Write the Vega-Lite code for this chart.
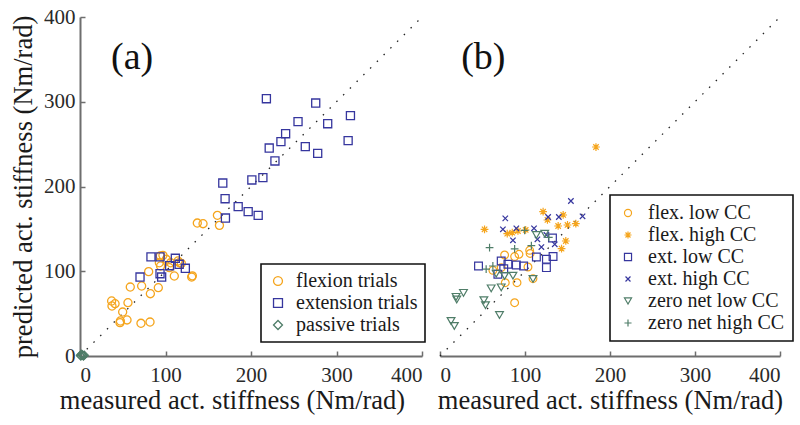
{
  "$schema": "https://vega.github.io/schema/vega-lite/v6.json",
  "background": "white",
  "padding": {"left": 10, "top": 6, "right": 2, "bottom": 4},
  "config": {
    "font": "Liberation Serif, serif",
    "view": {"stroke": null},
    "text": {"font": "Liberation Serif, serif"},
    "axis": {
      "labelFont": "Liberation Serif, serif",
      "titleFont": "Liberation Serif, serif",
      "labelFontSize": 21,
      "titleFontSize": 26.5,
      "titleFontWeight": "normal",
      "labelColor": "#2a2a2a",
      "titleColor": "#1a1a1a",
      "domainColor": "#6e6e6e",
      "domainWidth": 2,
      "tickColor": "#6e6e6e",
      "tickWidth": 1.5,
      "tickSize": -5,
      "grid": false
    },
    "legend": {
      "labelFont": "Liberation Serif, serif",
      "labelFontSize": 20,
      "labelColor": "#1a1a1a",
      "strokeColor": "#111111",
      "strokeWidth": 1.6,
      "fillColor": "white",
      "title": null
    }
  },
  "datasets": {
    "diag": [{"x": 0, "y": 0, "x2": 400, "y2": 400}],
    "labA": [{"x": 61, "y": 352, "label": "(a)"}],
    "labB": [{"x": 51, "y": 352, "label": "(b)"}],
    "a": [
      {"x": 160.7, "y": 166, "s": "flexion trials"},
      {"x": 163.1, "y": 154.2, "s": "flexion trials"},
      {"x": 137.2, "y": 156.9, "s": "flexion trials"},
      {"x": 143.9, "y": 156.1, "s": "flexion trials"},
      {"x": 94, "y": 118, "s": "flexion trials"},
      {"x": 97, "y": 118.8, "s": "flexion trials"},
      {"x": 92.8, "y": 110, "s": "flexion trials"},
      {"x": 100.9, "y": 114.1, "s": "flexion trials"},
      {"x": 114.6, "y": 112.1, "s": "flexion trials"},
      {"x": 118.5, "y": 109.3, "s": "flexion trials"},
      {"x": 104.5, "y": 104.2, "s": "flexion trials"},
      {"x": 116.2, "y": 110.1, "s": "flexion trials"},
      {"x": 80.3, "y": 99.5, "s": "flexion trials"},
      {"x": 110.3, "y": 94.4, "s": "flexion trials"},
      {"x": 130.6, "y": 93.2, "s": "flexion trials"},
      {"x": 131.4, "y": 94.6, "s": "flexion trials"},
      {"x": 58.8, "y": 81.4, "s": "flexion trials"},
      {"x": 72.1, "y": 82.6, "s": "flexion trials"},
      {"x": 91.6, "y": 80.6, "s": "flexion trials"},
      {"x": 82.3, "y": 73.5, "s": "flexion trials"},
      {"x": 37, "y": 64.9, "s": "flexion trials"},
      {"x": 37.4, "y": 59, "s": "flexion trials"},
      {"x": 41, "y": 61.7, "s": "flexion trials"},
      {"x": 56.1, "y": 62.9, "s": "flexion trials"},
      {"x": 49.9, "y": 51.9, "s": "flexion trials"},
      {"x": 47.2, "y": 41.3, "s": "flexion trials"},
      {"x": 46.8, "y": 39.3, "s": "flexion trials"},
      {"x": 55, "y": 42.5, "s": "flexion trials"},
      {"x": 71.3, "y": 38.6, "s": "flexion trials"},
      {"x": 81.9, "y": 40.1, "s": "flexion trials"},
      {"x": 94.2, "y": 106.2, "s": "flexion trials"},
      {"x": 106, "y": 110, "s": "flexion trials"},
      {"x": 218, "y": 303.6, "s": "extension trials"},
      {"x": 275.7, "y": 298.5, "s": "extension trials"},
      {"x": 316.3, "y": 283.6, "s": "extension trials"},
      {"x": 255, "y": 276.5, "s": "extension trials"},
      {"x": 289.7, "y": 274.1, "s": "extension trials"},
      {"x": 240.5, "y": 262.3, "s": "extension trials"},
      {"x": 235, "y": 252.9, "s": "extension trials"},
      {"x": 221.3, "y": 245.4, "s": "extension trials"},
      {"x": 263.5, "y": 247, "s": "extension trials"},
      {"x": 278, "y": 239.1, "s": "extension trials"},
      {"x": 313.6, "y": 254.1, "s": "extension trials"},
      {"x": 228, "y": 230.1, "s": "extension trials"},
      {"x": 167, "y": 204.1, "s": "extension trials"},
      {"x": 201, "y": 207.7, "s": "extension trials"},
      {"x": 213.9, "y": 210.4, "s": "extension trials"},
      {"x": 169.7, "y": 185.6, "s": "extension trials"},
      {"x": 185, "y": 176.2, "s": "extension trials"},
      {"x": 196.7, "y": 170.3, "s": "extension trials"},
      {"x": 208.4, "y": 166, "s": "extension trials"},
      {"x": 170.1, "y": 162.8, "s": "extension trials"},
      {"x": 83, "y": 117, "s": "extension trials"},
      {"x": 93.6, "y": 117, "s": "extension trials"},
      {"x": 111.5, "y": 115.3, "s": "extension trials"},
      {"x": 116, "y": 108.2, "s": "extension trials"},
      {"x": 123.2, "y": 103.5, "s": "extension trials"},
      {"x": 70.2, "y": 93.2, "s": "extension trials"},
      {"x": 93.6, "y": 97.1, "s": "extension trials"},
      {"x": 95.5, "y": 93.2, "s": "extension trials"},
      {"x": 104.8, "y": 106.5, "s": "extension trials"},
      {"x": 1, "y": 0, "s": "passive trials"},
      {"x": 3, "y": 1, "s": "passive trials"},
      {"x": 4, "y": 0, "s": "passive trials"},
      {"x": 2, "y": 2, "s": "passive trials"},
      {"x": 5, "y": 1, "s": "passive trials"},
      {"x": 0.5, "y": 1, "s": "passive trials"}
    ],
    "b": [
      {"x": 76, "y": 119.2, "s": "flex. low CC"},
      {"x": 87.8, "y": 117.3, "s": "flex. low CC"},
      {"x": 92.9, "y": 120, "s": "flex. low CC"},
      {"x": 105.5, "y": 124.7, "s": "flex. low CC"},
      {"x": 62.2, "y": 101.1, "s": "flex. low CC"},
      {"x": 72, "y": 104.3, "s": "flex. low CC"},
      {"x": 103.5, "y": 105, "s": "flex. low CC"},
      {"x": 76.8, "y": 86.5, "s": "flex. low CC"},
      {"x": 90.6, "y": 86.5, "s": "flex. low CC"},
      {"x": 109.4, "y": 91.3, "s": "flex. low CC"},
      {"x": 87.8, "y": 62.9, "s": "flex. low CC"},
      {"x": 106, "y": 121, "s": "flex. low CC"},
      {"x": 183.5, "y": 246.6, "s": "flex. high CC"},
      {"x": 52.4, "y": 149.5, "s": "flex. high CC"},
      {"x": 121.3, "y": 170.3, "s": "flex. high CC"},
      {"x": 144.9, "y": 166.4, "s": "flex. high CC"},
      {"x": 126.4, "y": 160.5, "s": "flex. high CC"},
      {"x": 139, "y": 153.4, "s": "flex. high CC"},
      {"x": 150, "y": 154.6, "s": "flex. high CC"},
      {"x": 159.8, "y": 156.2, "s": "flex. high CC"},
      {"x": 79.1, "y": 144.3, "s": "flex. high CC"},
      {"x": 91.7, "y": 147.5, "s": "flex. high CC"},
      {"x": 100.8, "y": 148.7, "s": "flex. high CC"},
      {"x": 148, "y": 135.7, "s": "flex. high CC"},
      {"x": 143, "y": 126.7, "s": "flex. high CC"},
      {"x": 85, "y": 145.5, "s": "flex. high CC"},
      {"x": 45.3, "y": 106.2, "s": "ext. low CC"},
      {"x": 72, "y": 112.1, "s": "ext. low CC"},
      {"x": 79.9, "y": 108.2, "s": "ext. low CC"},
      {"x": 89.8, "y": 107.4, "s": "ext. low CC"},
      {"x": 98.4, "y": 106.2, "s": "ext. low CC"},
      {"x": 68.1, "y": 96.4, "s": "ext. low CC"},
      {"x": 113.4, "y": 116.9, "s": "ext. low CC"},
      {"x": 133, "y": 117.3, "s": "ext. low CC"},
      {"x": 125.2, "y": 114.1, "s": "ext. low CC"},
      {"x": 125.2, "y": 104.3, "s": "ext. low CC"},
      {"x": 132.3, "y": 139.3, "s": "ext. low CC"},
      {"x": 75, "y": 103, "s": "ext. low CC"},
      {"x": 154, "y": 182.9, "s": "ext. high CC"},
      {"x": 167.7, "y": 164.8, "s": "ext. high CC"},
      {"x": 76.8, "y": 162.4, "s": "ext. high CC"},
      {"x": 127.2, "y": 164, "s": "ext. high CC"},
      {"x": 139.8, "y": 164, "s": "ext. high CC"},
      {"x": 74, "y": 149.5, "s": "ext. high CC"},
      {"x": 89.8, "y": 150.7, "s": "ext. high CC"},
      {"x": 110.6, "y": 150.7, "s": "ext. high CC"},
      {"x": 85.8, "y": 136.5, "s": "ext. high CC"},
      {"x": 114.6, "y": 137.7, "s": "ext. high CC"},
      {"x": 119.3, "y": 128.6, "s": "ext. high CC"},
      {"x": 135, "y": 131.8, "s": "ext. high CC"},
      {"x": 125.2, "y": 142.8, "s": "ext. high CC"},
      {"x": 18.9, "y": 69.8, "s": "zero net low CC"},
      {"x": 27.6, "y": 74.5, "s": "zero net low CC"},
      {"x": 19.7, "y": 66.6, "s": "zero net low CC"},
      {"x": 51.6, "y": 65.9, "s": "zero net low CC"},
      {"x": 53.5, "y": 60, "s": "zero net low CC"},
      {"x": 70, "y": 48.3, "s": "zero net low CC"},
      {"x": 13, "y": 41.3, "s": "zero net low CC"},
      {"x": 16.9, "y": 35.4, "s": "zero net low CC"},
      {"x": 60.2, "y": 79.8, "s": "zero net low CC"},
      {"x": 72, "y": 81, "s": "zero net low CC"},
      {"x": 85.8, "y": 94.8, "s": "zero net low CC"},
      {"x": 109.4, "y": 90.9, "s": "zero net low CC"},
      {"x": 66.1, "y": 97.2, "s": "zero net low CC"},
      {"x": 76, "y": 94.4, "s": "zero net low CC"},
      {"x": 113.4, "y": 142.7, "s": "zero net low CC"},
      {"x": 123.2, "y": 144.3, "s": "zero net low CC"},
      {"x": 58.3, "y": 127.8, "s": "zero net high CC"},
      {"x": 54.3, "y": 102.4, "s": "zero net high CC"},
      {"x": 62.2, "y": 106.2, "s": "zero net high CC"},
      {"x": 87.8, "y": 126.3, "s": "zero net high CC"},
      {"x": 107.5, "y": 130.2, "s": "zero net high CC"},
      {"x": 99.6, "y": 148.3, "s": "zero net high CC"},
      {"x": 128, "y": 140, "s": "zero net high CC"}
    ]
  },
  "bounds": "flush",
  "spacing": 18,
  "resolve": {
    "scale": {"color": "independent", "shape": "independent"},
    "legend": {"color": "independent", "shape": "independent"}
  },
  "hconcat": [
    {
      "width": 342,
      "height": 339,
      "layer": [
        {
          "data": {"name": "diag"},
          "mark": {"type": "rule", "strokeDash": [1.5, 8], "color": "#222", "strokeWidth": 1.3},
          "encoding": {
            "x": {"field": "x", "type": "quantitative", "scale": {"domain": [0, 400], "nice": false}, "axis": {"values": [0, 100, 200, 300, 400], "title": "measured act. stiffness (Nm/rad)", "labelFont": "Liberation Serif, serif", "titleFont": "Liberation Serif, serif", "labelPadding": 13, "titlePadding": 2, "titleX": 152}},
            "y": {"field": "y", "type": "quantitative", "scale": {"domain": [0, 400], "nice": false}, "axis": {"values": [0, 100, 200, 300, 400], "title": "predicted act. stiffness (Nm/rad)", "labelFont": "Liberation Serif, serif", "titleFont": "Liberation Serif, serif", "labelPadding": 10, "titlePadding": 6}},
            "x2": {"field": "x2"},
            "y2": {"field": "y2"}
          }
        },
        {
          "data": {"name": "a"},
          "mark": {"type": "point", "filled": false, "size": 65, "strokeWidth": 1.3, "opacity": 1},
          "encoding": {
            "x": {"field": "x", "type": "quantitative"},
            "y": {"field": "y", "type": "quantitative"},
            "color": {
              "field": "s", "type": "nominal",
              "scale": {"domain": ["flexion trials", "extension trials", "passive trials"], "range": ["#f5a51d", "#36369e", "#4f7d68"]},
              "legend": {"orient": "none", "legendX": 181, "legendY": 247, "padding": 7, "symbolSize": 80, "symbolStrokeWidth": 1.3, "labelOffset": 8, "rowPadding": 2, "labelFont": "Liberation Serif, serif", "labelFontSize": 20}
            },
            "shape": {
              "field": "s", "type": "nominal",
              "scale": {"domain": ["flexion trials", "extension trials", "passive trials"], "range": ["circle", "square", "diamond"]},
              "legend": {"orient": "none", "legendX": 181, "legendY": 247, "padding": 7, "symbolSize": 80, "symbolStrokeWidth": 1.3, "labelOffset": 8, "rowPadding": 2, "labelFont": "Liberation Serif, serif", "labelFontSize": 20}
            }
          }
        },
        {
          "data": {"name": "labA"},
          "mark": {"type": "text", "fontSize": 38, "font": "Liberation Serif, serif", "color": "#111", "align": "center", "baseline": "middle"},
          "encoding": {
            "x": {"field": "x", "type": "quantitative"},
            "y": {"field": "y", "type": "quantitative"},
            "text": {"field": "label"}
          }
        }
      ]
    },
    {
      "width": 340,
      "height": 339,
      "layer": [
        {
          "data": {"name": "diag"},
          "mark": {"type": "rule", "strokeDash": [1.5, 8], "color": "#222", "strokeWidth": 1.3},
          "encoding": {
            "x": {"field": "x", "type": "quantitative", "scale": {"domain": [0, 400], "nice": false}, "axis": {"values": [0, 100, 200, 300, 400], "title": "measured act. stiffness (Nm/rad)", "labelFont": "Liberation Serif, serif", "titleFont": "Liberation Serif, serif", "labelPadding": 13, "titlePadding": 2}},
            "y": {"field": "y", "type": "quantitative", "scale": {"domain": [0, 400], "nice": false}, "axis": null},
            "x2": {"field": "x2"},
            "y2": {"field": "y2"}
          }
        },
        {
          "data": {"name": "b"},
          "mark": {"type": "point", "filled": false, "size": 60, "strokeWidth": 1.2, "opacity": 1},
          "encoding": {
            "x": {"field": "x", "type": "quantitative"},
            "y": {"field": "y", "type": "quantitative"},
            "color": {
              "field": "s", "type": "nominal",
              "scale": {"domain": ["flex. low CC", "flex. high CC", "ext. low CC", "ext. high CC", "zero net low CC", "zero net high CC"], "range": ["#f5a51d", "#f5a51d", "#36369e", "#36369e", "#4f7d68", "#4f7d68"]},
              "legend": {"orient": "none", "legendX": 170, "legendY": 178, "padding": 8, "symbolSize": 50, "symbolStrokeWidth": 1.2, "labelOffset": 10, "rowPadding": 2, "labelFont": "Liberation Serif, serif", "labelFontSize": 20}
            },
            "shape": {
              "field": "s", "type": "nominal",
              "scale": {"domain": ["flex. low CC", "flex. high CC", "ext. low CC", "ext. high CC", "zero net low CC", "zero net high CC"], "range": ["circle", "M0,-1L0,1M-1,0L1,0M-0.7,-0.7L0.7,0.7M-0.7,0.7L0.7,-0.7", "square", "M-0.7,-0.7L0.7,0.7M-0.7,0.7L0.7,-0.7", "triangle-down", "M-1,0L1,0M0,-1L0,1"]},
              "legend": {"orient": "none", "legendX": 170, "legendY": 178, "padding": 8, "symbolSize": 50, "symbolStrokeWidth": 1.2, "labelOffset": 10, "rowPadding": 2, "labelFont": "Liberation Serif, serif", "labelFontSize": 20}
            }
          }
        },
        {
          "data": {"name": "labB"},
          "mark": {"type": "text", "fontSize": 38, "font": "Liberation Serif, serif", "color": "#111", "align": "center", "baseline": "middle"},
          "encoding": {
            "x": {"field": "x", "type": "quantitative"},
            "y": {"field": "y", "type": "quantitative"},
            "text": {"field": "label"}
          }
        }
      ]
    }
  ]
}
